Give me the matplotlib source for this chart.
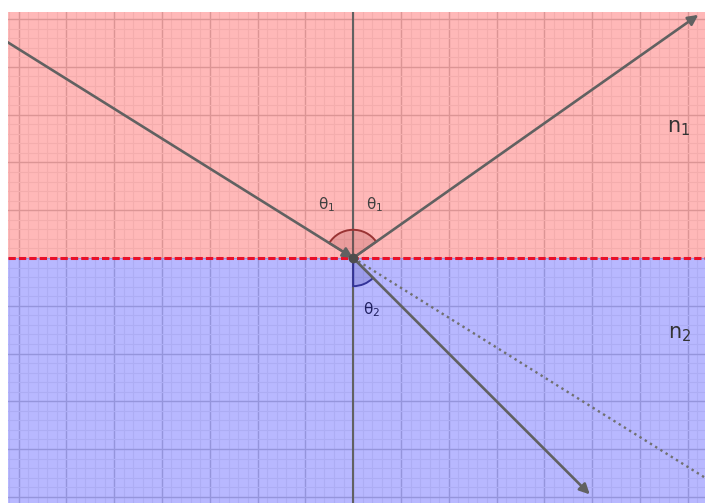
import numpy as np
import matplotlib
matplotlib.use("Agg")
import matplotlib.pyplot as plt
from matplotlib.patches import Wedge

plt.rcParams['mathtext.fontset'] = 'dejavusans'
plt.rcParams['mathtext.default'] = 'regular'

# ---- data (graph units) ----
x_range = [-7.22, 7.36]
y_range = [-5.13, 5.15]
interface_y = 0.0
origin = [0.0, 0.0]
incident_start = [-8.0, 5.0]
reflected_end = [7.22, 5.09]
refracted_end = [4.95, -4.95]
dotted_end = [8.0, -5.0]
arc_radius = 0.59
angle_labels = ["$θ_1$", "$θ_1$", "$θ_2$"]
angle_label_x = [-0.56, 0.44, 0.38]
angle_label_y = [1.12, 1.12, -1.08]
medium_labels = ["$n_1$", "$n_2$"]
medium_label_x = [6.8, 6.82]
medium_label_y = [2.72, -1.6]

W, H = 705, 503
fig = plt.figure(figsize=(W / 100, H / 100), dpi=100)
ax = fig.add_axes([8 / W, 0, (W - 8) / W, 491 / H])
ax.set_xlim(*x_range)
ax.set_ylim(*y_range)
ax.set_facecolor("white")
for s in ax.spines.values():
    s.set_visible(False)
ax.set_xticks([]); ax.set_yticks([])

# grid
for gx in np.arange(np.floor(x_range[0]), x_range[1] + 0.01, 0.2):
    major = abs(gx - round(gx)) < 1e-6
    ax.axvline(gx, color="#cfcfcf" if major else "#f1f1f1", lw=1.0 if major else 0.8, zorder=0)
for gy in np.arange(np.floor(y_range[0]), y_range[1] + 0.01, 0.2):
    major = abs(gy - round(gy)) < 1e-6
    ax.axhline(gy, color="#cfcfcf" if major else "#f1f1f1", lw=1.0 if major else 0.8, zorder=0)

# media
ax.axhspan(interface_y, y_range[1] + 1, color=(1.0, 0.0, 0.0), alpha=0.28, lw=0, zorder=1)
ax.axhspan(y_range[0] - 1, interface_y, color=(0.0, 0.0, 1.0), alpha=0.28, lw=0, zorder=1)

# normal
ax.axvline(origin[0], color="#616161", lw=1.5, zorder=3)

# interface
ax.axhline(interface_y, color="#e8102a", lw=2.2, linestyle=(0, (2.4, 1.0)), zorder=4)

# angle wedges
def ang(p):
    return np.degrees(np.arctan2(p[1] - origin[1], p[0] - origin[0]))

a_inc = ang(incident_start)
a_ref = ang(reflected_end)
a_rfr = ang(refracted_end)
ax.add_patch(Wedge(origin, arc_radius, a_ref, a_inc, facecolor=(0.6, 0.2, 0.2, 0.2),
                   edgecolor="#993333", lw=1.4, zorder=3))
ax.add_patch(Wedge(origin, arc_radius, -90, a_rfr, facecolor=(0.2, 0.2, 0.6, 0.2),
                   edgecolor="#333399", lw=1.4, zorder=3))

# dotted continuation
ax.plot([origin[0], dotted_end[0]], [origin[1], dotted_end[1]], color="#707070", lw=1.7,
        linestyle=(0, (1, 1.6)), zorder=5)

ray_col = "#616161"
ap = dict(arrowstyle="-|>", mutation_scale=15, lw=1.9, color=ray_col, shrinkA=0, shrinkB=0)
for start, end in [(incident_start, origin), (origin, reflected_end), (origin, refracted_end)]:
    ann = ax.annotate("", xy=end, xytext=start, arrowprops=ap, zorder=6, annotation_clip=False)
    ann.arrow_patch.set_clip_on(True)
    ann.arrow_patch.set_clip_box(ax.bbox)

ax.plot([origin[0]], [origin[1]], "o", color="#4d4d4d", ms=6, zorder=7)

cols = ["#404040", "#404040", "#202060"]
for t, x, y, c in zip(angle_labels, angle_label_x, angle_label_y, cols):
    ax.text(x, y, t, fontsize=11, color=c, ha="center", va="center", zorder=8)
for t, x, y in zip(medium_labels, medium_label_x, medium_label_y):
    ax.text(x, y, t, fontsize=15, color="#333333", ha="center", va="center", zorder=8)

fig.savefig("out.png", dpi=100)
